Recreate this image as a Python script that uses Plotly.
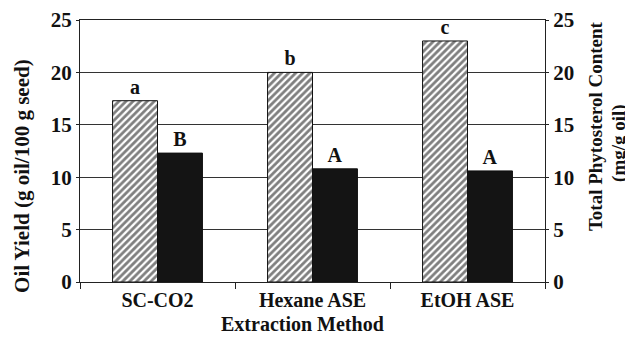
import plotly.graph_objects as go

categories = ["SC-CO2", "Hexane ASE", "EtOH ASE"]
oil_yield = [17.3, 20.0, 23.0]
phytosterol = [12.3, 10.8, 10.6]
oil_letters = ["a", "b", "c"]
phyto_letters = ["B", "A", "A"]
y_ticks = [0, 5, 10, 15, 20, 25]

FONT = "Liberation Serif"
INK = "#111"

fig = go.Figure()
fig.add_trace(go.Bar(
    x=categories, y=oil_yield, name="Oil Yield",
    marker=dict(color="white", line=dict(color=INK, width=1),
                pattern=dict(shape="/", fgcolor="#000", bgcolor="white", size=5, solidity=0.55)),
    offsetgroup="1", yaxis="y",
    text=oil_letters, textposition="outside", cliponaxis=False,
    textfont=dict(family=FONT, size=20, color=INK, weight="bold"),
))
fig.add_trace(go.Bar(
    x=categories, y=phytosterol, name="Phytosterol",
    marker=dict(color="#141414", line=dict(color=INK, width=1)),
    offsetgroup="2", yaxis="y2",
    text=phyto_letters, textposition="outside", cliponaxis=False,
    textfont=dict(family=FONT, size=20, color=INK, weight="bold"),
))

ytick_font = dict(family=FONT, size=21, color=INK, weight="bold")
xtick_font = dict(family=FONT, size=20, color=INK, weight="bold")

fig.update_layout(
    width=625, height=335,
    margin=dict(l=72, r=88, t=12, b=61, autoexpand=False),
    paper_bgcolor="white", plot_bgcolor="white",
    showlegend=False,
    barmode="group", bargap=0.42, bargroupgap=0,
    font=dict(family=FONT, color=INK),
    xaxis=dict(
        tickfont=xtick_font, automargin=False,
        showline=True, linecolor="#222", linewidth=1, mirror=True,
        ticks="outside", tickson="boundaries", ticklen=6, tickcolor="#222",
        showgrid=False,
    ),
    yaxis=dict(
        range=[0, 25], tickvals=y_ticks, tickfont=ytick_font, automargin=False,
        showline=True, linecolor="#222", linewidth=1,
        showgrid=True, gridcolor="#333", gridwidth=1,
        ticks="outside", ticklen=3, tickcolor="#222",
        zeroline=False,
    ),
    yaxis2=dict(
        range=[0, 25], tickvals=y_ticks, tickfont=ytick_font, automargin=False,
        overlaying="y", side="right",
        showline=True, linecolor="#222", linewidth=1,
        showgrid=False, zeroline=False,
        ticks="outside", ticklen=3, tickcolor="#222",
    ),
    annotations=[
        dict(text="<b>Oil Yield (g oil/100 g seed)</b>", textangle=-90,
             xref="paper", yref="paper", x=0, y=0.405, xshift=-58,
             xanchor="center", yanchor="middle", showarrow=False,
             font=dict(family=FONT, size=21, color=INK)),
        dict(text="<b>Total Phytosterol Content</b>", textangle=-90,
             xref="paper", yref="paper", x=1, y=0.595, xshift=50,
             xanchor="center", yanchor="middle", showarrow=False,
             font=dict(family=FONT, size=19, color=INK)),
        dict(text="<b>(mg/g oil)</b>", textangle=-90,
             xref="paper", yref="paper", x=1, y=0.531, xshift=74,
             xanchor="center", yanchor="middle", showarrow=False,
             font=dict(family=FONT, size=19, color=INK)),
        dict(text="<b>Extraction Method</b>",
             xref="paper", yref="paper", x=0.5, y=0, xshift=-10, yshift=-42,
             xanchor="center", yanchor="middle", showarrow=False,
             font=dict(family=FONT, size=20, color=INK)),
    ],
)

fig.write_html("out.html")
